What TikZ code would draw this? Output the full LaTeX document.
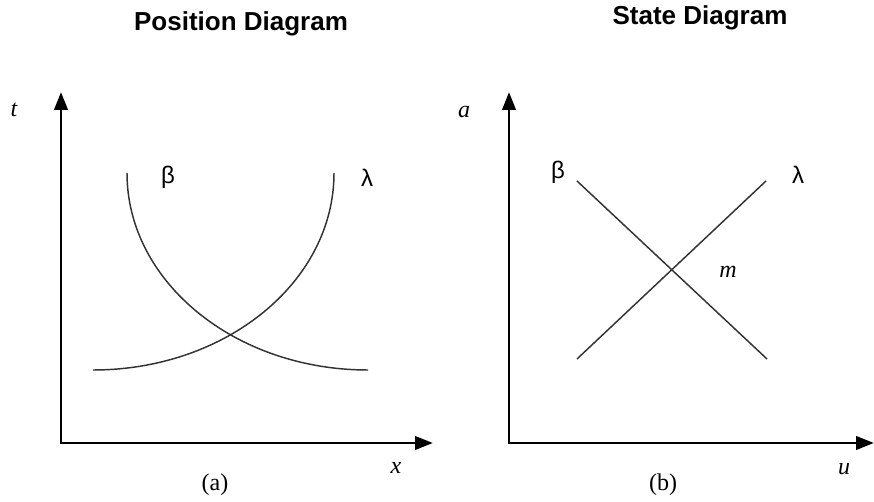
\documentclass[tikz,border=0pt]{standalone}
\usepackage{fontspec}
\setmainfont{Liberation Serif}
\setsansfont{Liberation Sans}
\usetikzlibrary{arrows.meta}

\begin{document}
\begin{tikzpicture}[x=0.75pt,y=0.75pt,
	eje/.style={{Triangle[length=13.5pt,width=10pt]}-{Triangle[length=13.5pt,width=10pt]},black,line width=2.2pt,line join=miter},
	curva/.style={black!80,line width=1.1pt},
	etiq/.style={font=\fontsize{18}{18}\selectfont\itshape},
	griega/.style={font=\fontsize{18}{18}\selectfont\sffamily},
	titulo/.style={font=\fontsize{19.5}{20}\selectfont\sffamily\bfseries,anchor=base},
	pie/.style={font=\fontsize{18}{18}\selectfont}]
	
	\useasboundingbox (0,0) rectangle (874,502);
	
	% Ventana
	\def\yo{59} \def\ytop{410}
	
	% Titulos
	\node[titulo] (tita) at (241,471) {Position Diagram};
	\node[titulo] (titb) at (700,477) {State Diagram};
	
	% Ejes (a)
	\coordinate (Oa) at (61,\yo);
	\coordinate (Ta) at (61,\ytop);
	\coordinate (Xa) at (433,\yo);
	\draw[eje] (Ta) -- (Oa) -- (Xa);
	\node[etiq] (lt) at (14,392) {t};
	\node[etiq] (lx) at (396,34) {x};
	\node[pie] (pa) at (215,17) {(a)};
	
	% Ejes (b)
	\coordinate (Ob) at (509,\yo);
	\coordinate (Tb) at (509,\ytop);
	\coordinate (Xb) at (874,\yo);
	\draw[eje] (Tb) -- (Ob) -- (Xb);
	\node[etiq] (la) at (464,390) {a};
	\node[etiq] (lu) at (844,33) {u};
	\node[pie] (pb) at (663,17) {(b)};
	
	% Curvas del diagrama de posicion
	\coordinate (Ba) at (127,329);
	\coordinate (La) at (93,132);
	\draw[curva] (Ba) arc[start angle=180,end angle=270,x radius=241,y radius=197];
	\draw[curva] (La) arc[start angle=270,end angle=360,x radius=241,y radius=197];
	\node[griega] (bta) at (168,325) {β};
	\node[griega] (lma) at (367,324) {λ};
	
	% Rectas del diagrama de estado
	\coordinate (Bb1) at (577,321);
	\coordinate (Bb2) at (767,143);
	\coordinate (Lb1) at (577,143);
	\coordinate (Lb2) at (766,321);
	\draw[curva] (Bb1) -- (Bb2);
	\draw[curva] (Lb1) -- (Lb2);
	\node[griega] (btb) at (558,330) {β};
	\node[griega] (lmb) at (798,327) {λ};
	\node[etiq] (lm) at (728,230) {m};
	
\end{tikzpicture}
\end{document}
